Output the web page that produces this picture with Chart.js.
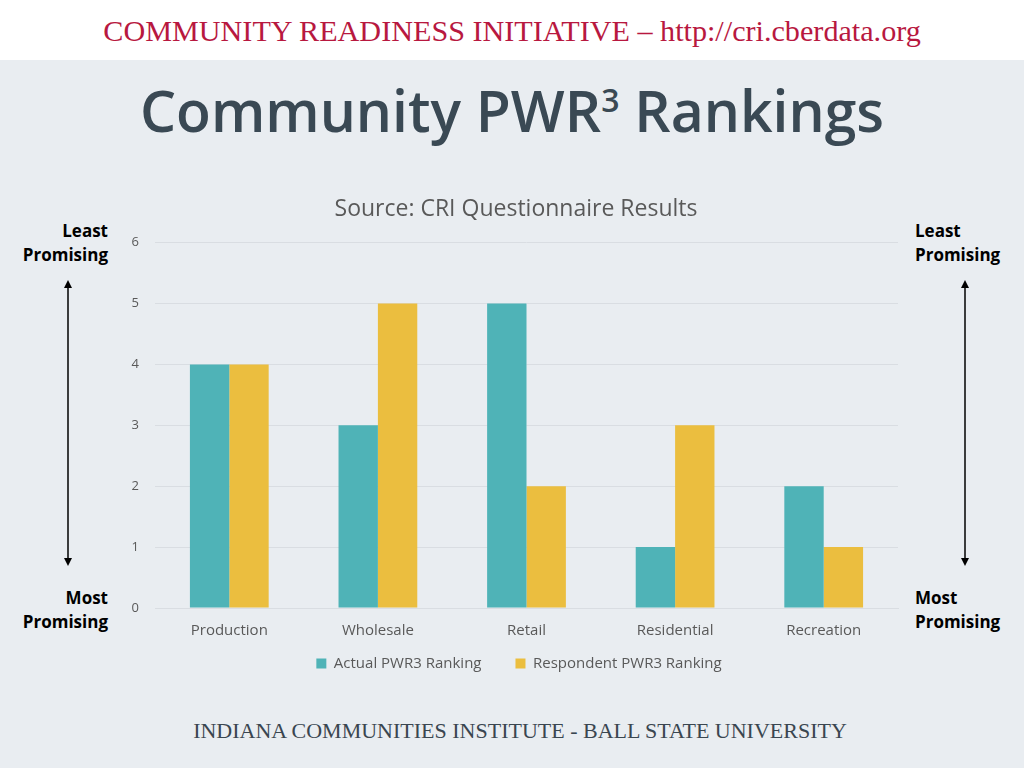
<!DOCTYPE html>
<html>
<head>
<meta charset="utf-8">
<script src="https://cdn.jsdelivr.net/npm/chart.js@4"></script>
<style>
  html, body { margin: 0; padding: 0; }
  body { width: 1024px; height: 768px; background: #e9edf1; position: relative; overflow: hidden; font-family: "Open Sans", sans-serif; }
  #header { position: absolute; left: 0; top: 0; width: 1024px; height: 60px; background: #ffffff; text-align: center; }
  #header span { display: inline-block; margin-top: 15px; font-family: "Liberation Serif", serif; font-size: 29px; color: #b8183f; transform: scaleX(1.04); }
  #title { position: absolute; left: 0; top: 71px; width: 1024px; text-align: center; font-family: "Open Sans", sans-serif; font-weight: 600; font-size: 57px; color: #3a4954; }
  #title sup { font-size: 32px; vertical-align: 20px; }
  #footer { position: absolute; left: 8px; top: 718px; width: 1024px; text-align: center; font-family: "Liberation Serif", serif; font-size: 22px; color: #3a4650; }
  .side { position: absolute; font-weight: bold; font-size: 17px; line-height: 24px; color: #000; }
  .left { right: 916px; text-align: right; }
  .right { left: 915px; text-align: left; }
  #wrap { position: absolute; left: 100px; top: 186px; width: 820px; height: 519px; }
  svg.arrow { position: absolute; top: 0; left: 0; }
</style>
</head>
<body>
<div id="header"><span>COMMUNITY READINESS INITIATIVE – http://cri.cberdata.org</span></div>
<div id="title">Community PWR<sup>3</sup> Rankings</div>

<div class="side left" style="top:219px;">Least<br>Promising</div>
<div class="side left" style="top:586px;">Most<br>Promising</div>
<div class="side right" style="top:219px;">Least<br>Promising</div>
<div class="side right" style="top:586px;">Most<br>Promising</div>

<svg class="arrow" width="1024" height="768">
  <defs>
    <marker id="ah" markerWidth="8" markerHeight="8" refX="4" refY="4" orient="auto-start-reverse" markerUnits="userSpaceOnUse">
      <path d="M0,0 L8,4 L0,8 z" fill="#000"/>
    </marker>
  </defs>
  <line x1="68" y1="284" x2="68" y2="562" stroke="#000" stroke-width="1.5" marker-start="url(#ah)" marker-end="url(#ah)"/>
  <line x1="965" y1="284" x2="965" y2="562" stroke="#000" stroke-width="1.5" marker-start="url(#ah)" marker-end="url(#ah)"/>
</svg>

<div id="wrap"><canvas id="chart"></canvas></div>

<div id="footer">INDIANA COMMUNITIES INSTITUTE - BALL STATE UNIVERSITY</div>

<script>
  var categories = ['Production', 'Wholesale', 'Retail', 'Residential', 'Recreation'];
  var actualRanking = [4, 3, 5, 1, 2];
  var respondentRanking = [4, 5, 2, 3, 1];
  var seriesNames = ['Actual PWR3 Ranking', 'Respondent PWR3 Ranking'];
  var yTicks = [0, 1, 2, 3, 4, 5, 6];

  // nudge the legend up towards the category labels, centre legend + title on the plot
  var blockShift = {
    id: 'blockShift',
    afterLayout: function (chart) {
      var l = chart.legend;
      l.top -= 24; l.bottom -= 24;
      l.left += 20; l.right += 20;
      var t = chart.titleBlock;
      if (t) { t.left += 17; t.right += 17; }
    }
  };

  var ctx = document.getElementById('chart').getContext('2d');
  new Chart(ctx, {
    type: 'bar',
    data: {
      labels: categories,
      datasets: [{
        label: seriesNames[0],
        data: actualRanking,
        backgroundColor: '#4fb3b7'
      }, {
        label: seriesNames[1],
        data: respondentRanking,
        backgroundColor: '#ebbe3f'
      }]
    },
    options: {
      responsive: true,
      maintainAspectRatio: false,
      animation: false,
      layout: { padding: { left: 0, right: 22, top: 0, bottom: 0 } },
      categoryPercentage: 0.53,
      barPercentage: 1.0,
      scales: {
        x: {
          grid: { display: false },
          border: { color: '#d9dde2' },
          ticks: { color: '#595959', font: { family: 'Open Sans', size: 15 }, padding: 6 }
        },
        y: {
          min: 0,
          max: 6,
          afterBuildTicks: function (axis) {
            axis.ticks = yTicks.map(function (v) { return { value: v }; });
          },
          grid: { color: '#d9dde2', drawTicks: false },
          border: { display: false },
          ticks: { color: '#595959', font: { family: 'Open Sans', size: 13 }, padding: 16 },
          afterFit: function (axis) { axis.width = 55; }
        }
      },
      plugins: {
        title: {
          display: true,
          text: 'Source: CRI Questionnaire Results',
          color: '#595959',
          font: { family: 'Open Sans', size: 23, weight: 'normal' },
          padding: { top: 10, bottom: 19 }
        },
        legend: {
          position: 'bottom',
          labels: {
            color: '#595959',
            font: { family: 'Open Sans', size: 15 },
            boxWidth: 10,
            boxHeight: 10,
            padding: 34
          }
        },
        tooltip: { enabled: false }
      }
    },
    plugins: [blockShift]
  });
</script>
</body>
</html>
